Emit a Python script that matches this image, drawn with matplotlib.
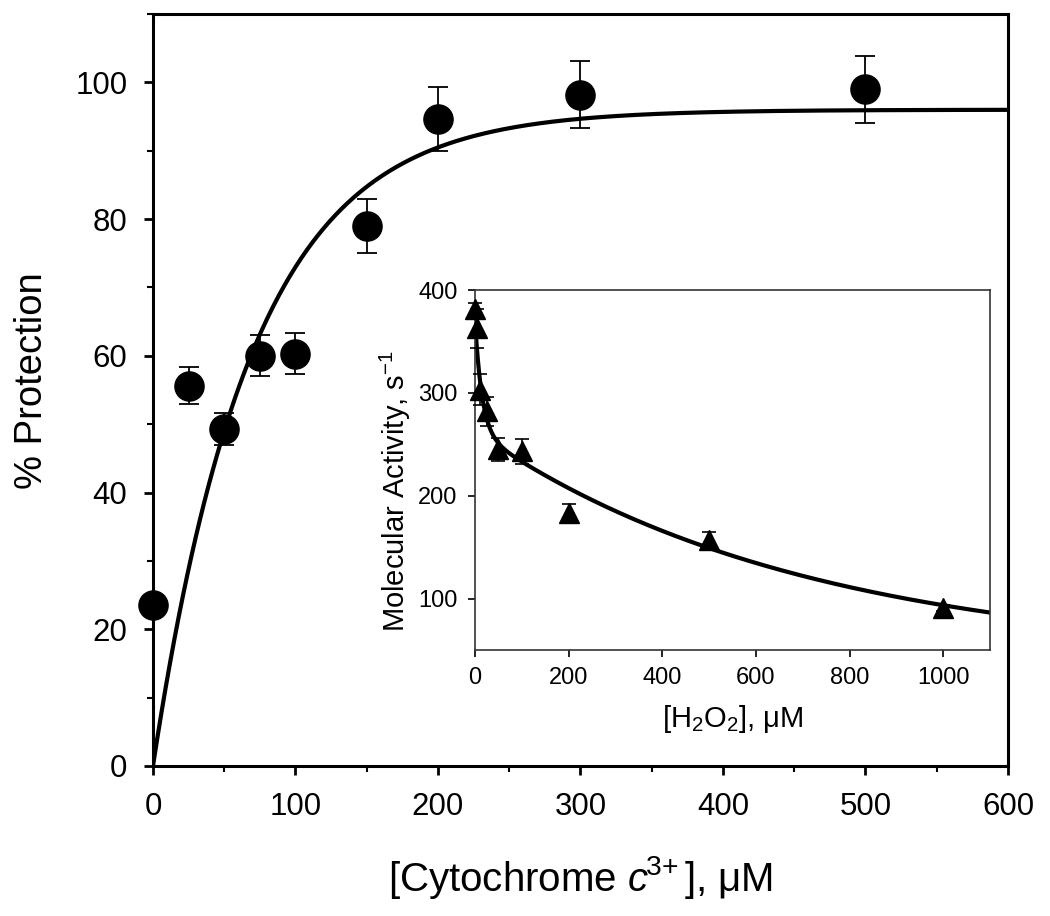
import numpy as np
import matplotlib
matplotlib.use("Agg")
import matplotlib.pyplot as plt
from matplotlib.ticker import MultipleLocator

plt.rcParams['font.family'] = ['Liberation Sans', 'DejaVu Sans']
plt.rcParams['mathtext.fontset'] = 'custom'
plt.rcParams['mathtext.rm'] = 'Liberation Sans'
plt.rcParams['mathtext.it'] = 'Liberation Sans:italic'
plt.rcParams['mathtext.bf'] = 'Liberation Sans:bold'

# Main data: % protection vs cytochrome c concentration
cyt_conc = [0, 25, 50, 75, 100, 150, 200, 300, 500]
protection = [23.5, 55.6, 49.3, 60.0, 60.3, 79.0, 94.6, 98.2, 99.0]
protection_err = [0.0, 2.7, 2.3, 3.0, 3.0, 4.0, 4.7, 4.9, 4.9]

# Main fit parameters: y = ymax * (1 - exp(-x / tau))
fit_ymax = 96.0
fit_tau = 70.0

# Inset data: molecular activity vs H2O2
h2o2_conc = [0, 5, 10, 25, 50, 100, 200, 500, 1000]
activity = [382, 363, 303, 282, 245, 243, 183, 157, 91]
activity_err = [5, 19, 15, 14, 11.5, 11.7, 9, 7.5, 3]

# Inset fit parameters: biphasic decay
in_a1, in_t1 = 107.0, 15.0
in_a2, in_t2 = 222.4, 700.0
in_y0 = 40.2

fig = plt.figure(figsize=(10.5, 9.16), dpi=100)

ax = fig.add_axes([0.1457, 0.1638, 0.8143, 0.8209])
xf = np.linspace(0, 600, 600)
ax.plot(xf, fit_ymax * (1 - np.exp(-xf / fit_tau)), color='black', lw=3.0, zorder=2)
ax.errorbar(cyt_conc, protection, yerr=protection_err, fmt='o', color='black',
            ms=21, elinewidth=1.3, capsize=7, capthick=1.3, zorder=3, clip_on=False)
ax.set_xlim(0, 600)
ax.set_ylim(0, 110)
ax.xaxis.set_major_locator(MultipleLocator(100))
ax.xaxis.set_minor_locator(MultipleLocator(50))
ax.yaxis.set_major_locator(MultipleLocator(20))
ax.yaxis.set_minor_locator(MultipleLocator(10))
ax.tick_params(which='major', direction='out', length=6.5, width=2, labelsize=22.5, pad=12)
ax.tick_params(which='minor', direction='out', length=4, width=1.5)
for s in ax.spines.values():
    s.set_linewidth(2.2)
ax.set_xlabel(r"[Cytochrome $\mathit{c}^{\!3\!+}$], μM", fontsize=29, labelpad=23)
ax.set_ylabel("% Protection", fontsize=27.5, labelpad=18, y=0.513)

# Inset
ins = fig.add_axes([0.4524, 0.2904, 0.4905, 0.3930])
xi = np.linspace(0, 1100, 1100)
ins.plot(xi, in_a1 * np.exp(-xi / in_t1) + in_a2 * np.exp(-xi / in_t2) + in_y0,
         color='black', lw=3.0, zorder=2)
ins.errorbar(h2o2_conc, activity, yerr=activity_err, fmt='^', color='black',
             ms=14, elinewidth=1.2, capsize=5, capthick=1.2, zorder=3, clip_on=False)
ins.set_xlim(0, 1100)
ins.set_ylim(50, 400)
ins.xaxis.set_major_locator(MultipleLocator(200))
ins.set_yticks([100, 200, 300, 400])
ins.tick_params(direction='out', length=5, width=1.2, labelsize=17, pad=7.5)
for s in ins.spines.values():
    s.set_linewidth(1.2)
    s.set_color('#333333')
ins.set_xlabel(r"[H$_2$O$_2$], μM", fontsize=21, labelpad=10)
ins.set_ylabel(r"Molecular Activity, s$^{-1}$", fontsize=21, labelpad=4, y=0.44)

fig.savefig("out.png", dpi=100)
